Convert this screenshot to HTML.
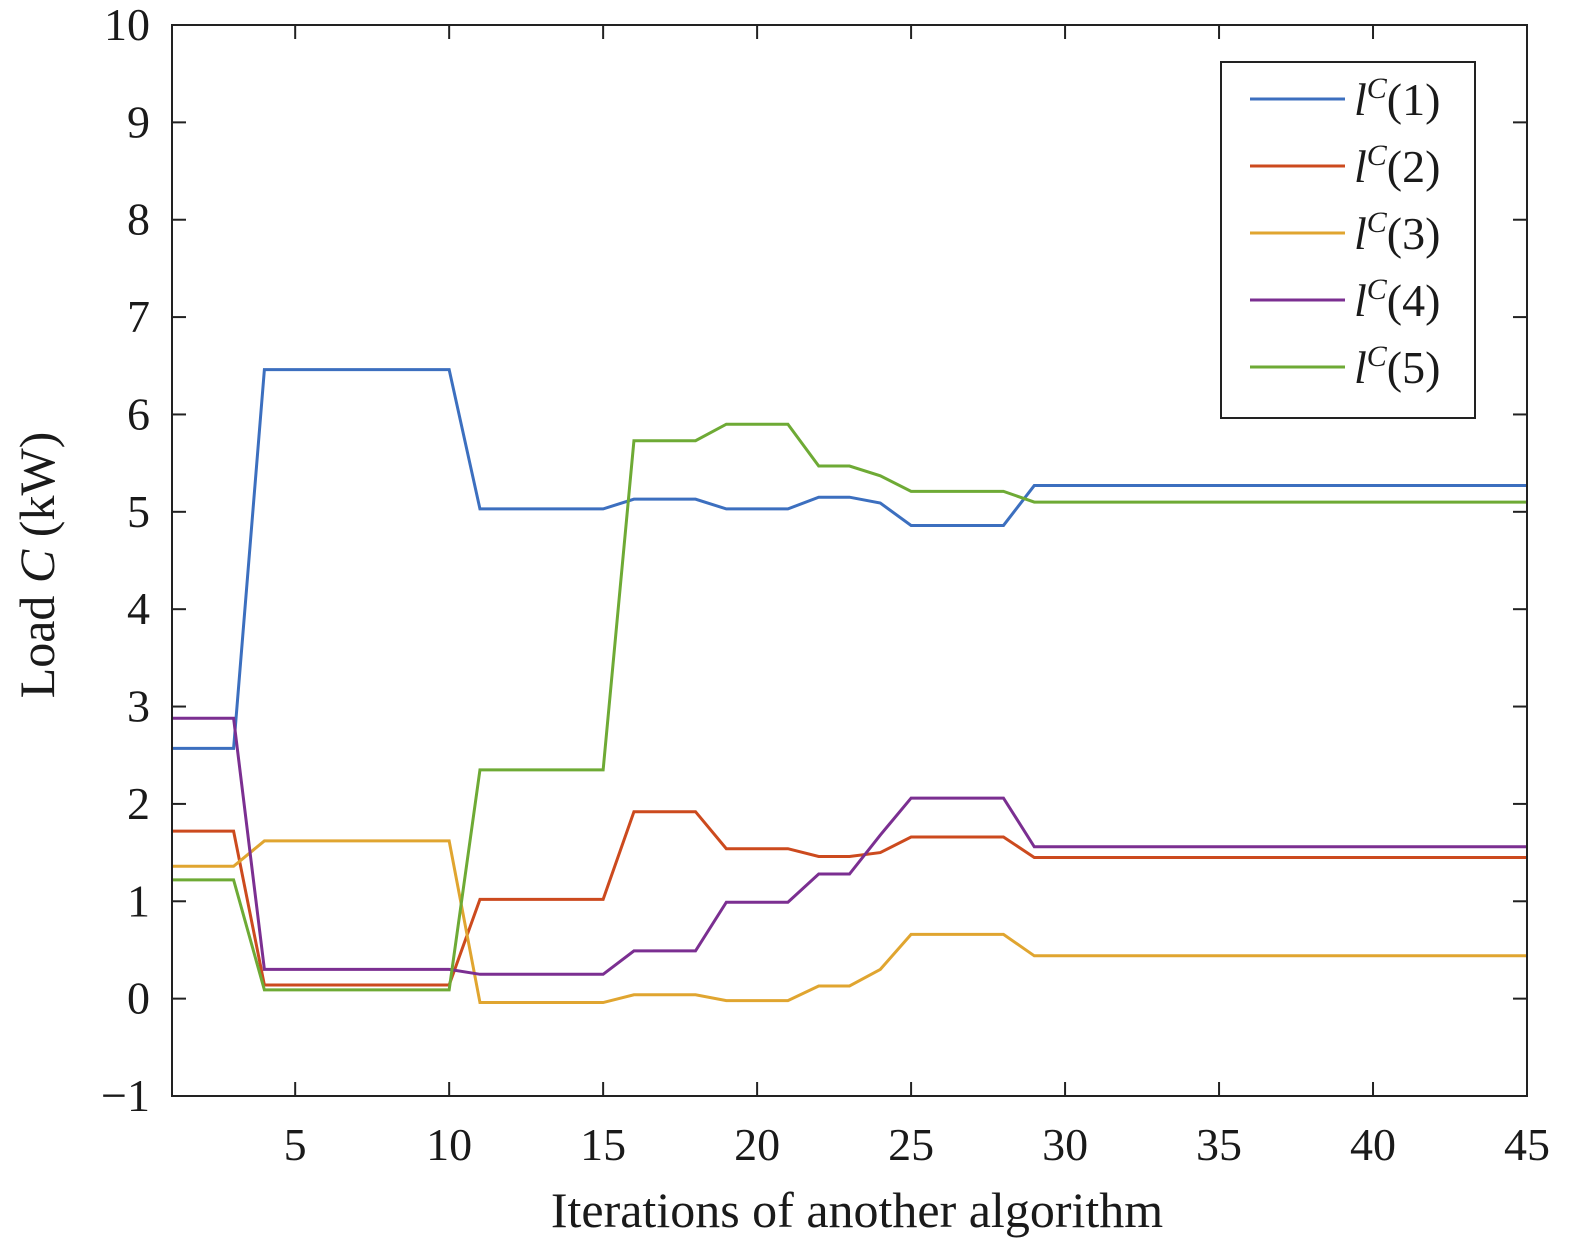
<!DOCTYPE html>
<html><head><meta charset="utf-8"><style>
body{margin:0;background:#fff}
svg text{font-family:"Liberation Serif",serif;fill:#1a1a1a}
</style></head><body>
<svg id="chart" width="1575" height="1250" xmlns="http://www.w3.org/2000/svg"></svg>
<script>
const xTicks=[5,10,15,20,25,30,35,40,45];
const yTicks=[-1,0,1,2,3,4,5,6,7,8,9,10];
const seriesNames=["1","2","3","4","5"];
const colors=["#3c6fbf","#cc4a1e","#e0a530","#7b2f91","#6eaa35"];
const l1=[2.57,2.57,2.57,6.46,6.46,6.46,6.46,6.46,6.46,6.46,5.03,5.03,5.03,5.03,5.03,5.13,5.13,5.13,5.03,5.03,5.03,5.15,5.15,5.09,4.86,4.86,4.86,4.86,5.27,5.27,5.27,5.27,5.27,5.27,5.27,5.27,5.27,5.27,5.27,5.27,5.27,5.27,5.27,5.27,5.27];
const l2=[1.72,1.72,1.72,0.14,0.14,0.14,0.14,0.14,0.14,0.14,1.02,1.02,1.02,1.02,1.02,1.92,1.92,1.92,1.54,1.54,1.54,1.46,1.46,1.5,1.66,1.66,1.66,1.66,1.45,1.45,1.45,1.45,1.45,1.45,1.45,1.45,1.45,1.45,1.45,1.45,1.45,1.45,1.45,1.45,1.45];
const l3=[1.36,1.36,1.36,1.62,1.62,1.62,1.62,1.62,1.62,1.62,-0.04,-0.04,-0.04,-0.04,-0.04,0.04,0.04,0.04,-0.02,-0.02,-0.02,0.13,0.13,0.3,0.66,0.66,0.66,0.66,0.44,0.44,0.44,0.44,0.44,0.44,0.44,0.44,0.44,0.44,0.44,0.44,0.44,0.44,0.44,0.44,0.44];
const l4=[2.88,2.88,2.88,0.3,0.3,0.3,0.3,0.3,0.3,0.3,0.25,0.25,0.25,0.25,0.25,0.49,0.49,0.49,0.99,0.99,0.99,1.28,1.28,1.68,2.06,2.06,2.06,2.06,1.56,1.56,1.56,1.56,1.56,1.56,1.56,1.56,1.56,1.56,1.56,1.56,1.56,1.56,1.56,1.56,1.56];
const l5=[1.22,1.22,1.22,0.09,0.09,0.09,0.09,0.09,0.09,0.09,2.35,2.35,2.35,2.35,2.35,5.73,5.73,5.73,5.9,5.9,5.9,5.47,5.47,5.37,5.21,5.21,5.21,5.21,5.1,5.1,5.1,5.1,5.1,5.1,5.1,5.1,5.1,5.1,5.1,5.1,5.1,5.1,5.1,5.1,5.1];
const allSeries=[l1,l2,l3,l4,l5];

const L=172,R=1527,T=25,B=1096;
const xs=v=>L+(v-1)/(45-1)*(R-L);
const ys=v=>B-(v+1)/11*(B-T);
const svg=document.getElementById('chart');
const NS="http://www.w3.org/2000/svg";
function mk(tag,attrs,parent){const e=document.createElementNS(NS,tag);for(const k in attrs)e.setAttribute(k,attrs[k]);(parent||svg).appendChild(e);return e;}

const lines=mk('g',{});


allSeries.forEach((s,i)=>{
  const p=mk('polyline',{points:s.map((v,j)=>xs(j+1)+','+ys(v)).join(' '),fill:'none',stroke:colors[i],'stroke-width':3},lines);
  
  
});

const frame=mk('rect',{x:L,y:T,width:R-L,height:B-T,fill:'none',stroke:'#222','stroke-width':2});



xTicks.forEach(t=>{
  const x=xs(t);
  mk('line',{x1:x,x2:x,y1:B,y2:B-14,stroke:'#222','stroke-width':2});
  mk('line',{x1:x,x2:x,y1:T,y2:T+14,stroke:'#222','stroke-width':2});
  const tx=mk('text',{x:x,y:B+64,'text-anchor':'middle','font-size':46});
  tx.textContent=t;
  
  
});
yTicks.forEach(t=>{
  const y=ys(t);
  mk('line',{x1:L,x2:L+14,y1:y,y2:y,stroke:'#222','stroke-width':2});
  mk('line',{x1:R,x2:R-14,y1:y,y2:y,stroke:'#222','stroke-width':2});
  const tx=mk('text',{x:L-22,y:y+15,'text-anchor':'end','font-size':46});
  tx.textContent=t<0?'\u2212'+(-t):t;
  
  
});

const xt=mk('text',{x:857,y:1227,'text-anchor':'middle','font-size':50});
xt.textContent='Iterations of another algorithm';


const yt=mk('text',{x:0,y:0,'text-anchor':'middle','font-size':50,transform:'translate(54,565) rotate(-90)'});
yt.innerHTML='Load <tspan font-style="italic">C</tspan> (kW)';



const lg=mk('g',{});


mk('rect',{x:1221,y:62,width:254,height:356,fill:'#fff',stroke:'#222','stroke-width':2},lg);
seriesNames.forEach((n,i)=>{
  const y=99+i*67;
  const g=mk('g',{},lg);
  
  
  mk('line',{x1:1250,x2:1345,y1:y,y2:y,stroke:colors[i],'stroke-width':3},g);
  const t=mk('text',{x:1354,y:y+16,'font-size':46},g);
  t.innerHTML='<tspan font-style="italic">l</tspan><tspan font-style="italic" font-size="30" dy="-17">C</tspan><tspan dy="17">('+n+')</tspan>';
});
</script>
</body></html>
